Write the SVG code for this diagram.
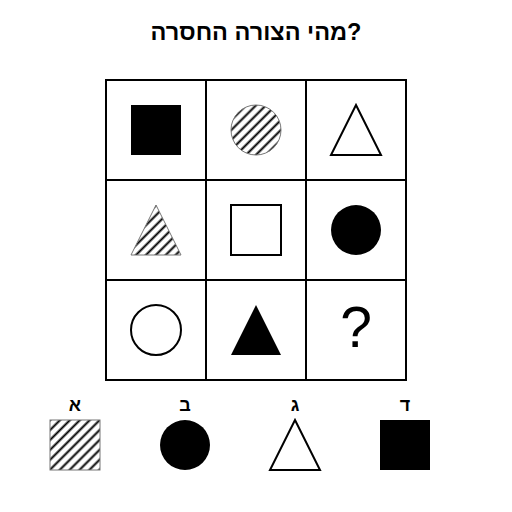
<svg xmlns="http://www.w3.org/2000/svg" width="512" height="512" viewBox="0 0 512 512">
<defs>
<pattern id="hatch" patternUnits="userSpaceOnUse" width="7" height="7" patternTransform="rotate(45)">
<rect width="7" height="7" fill="#fff"/>
<line x1="3.5" y1="0" x2="3.5" y2="7" stroke="#000" stroke-width="2"/>
</pattern>
</defs>
<style>
.grid{fill:none;stroke:#000;stroke-width:2}
.solid{fill:#000}
.outline{fill:#fff;stroke:#000;stroke-width:2}
.hatched{fill:url(#hatch);stroke:#777;stroke-width:1}
.title{font-family:"Liberation Sans",Arial,sans-serif;font-weight:bold;font-size:23.5px;text-anchor:middle}
.lbl{font-family:"Liberation Sans",Arial,sans-serif;font-weight:bold;font-size:18px;text-anchor:middle}
.q{font-family:"Liberation Sans",Arial,sans-serif;font-size:57px;text-anchor:middle}
</style>
<rect width="512" height="512" fill="#fff"/>
<text class="title" x="256" y="40">מהי הצורה החסרה?</text>
<g id="grid">
<rect class="grid" x="106" y="80" width="300" height="300"/>
<line class="grid" x1="206" y1="80" x2="206" y2="380"/>
<line class="grid" x1="306" y1="80" x2="306" y2="380"/>
<line class="grid" x1="106" y1="180" x2="406" y2="180"/>
<line class="grid" x1="106" y1="280" x2="406" y2="280"/>
</g>
<g id="cell-1-1"><rect class="solid" x="131" y="105" width="50" height="50"/></g>
<g id="cell-1-2"><circle class="hatched" cx="256" cy="130" r="25"/></g>
<g id="cell-1-3"><polygon class="outline" points="356,105 381,155 331,155"/></g>
<g id="cell-2-1"><polygon class="hatched" points="156,205 181,255 131,255"/></g>
<g id="cell-2-2"><rect class="outline" x="231" y="205" width="50" height="50"/></g>
<g id="cell-2-3"><circle class="solid" cx="356" cy="230" r="25"/></g>
<g id="cell-3-1"><circle class="outline" cx="156" cy="330" r="25"/></g>
<g id="cell-3-2"><polygon class="solid" points="256,305 281,355 231,355"/></g>
<g id="cell-3-3"><text class="q" x="356" y="347">?</text></g>
<g id="option-a">
<text class="lbl" x="75" y="411">א</text>
<rect class="hatched" x="50" y="420" width="50" height="50"/>
</g>
<g id="option-b">
<text class="lbl" x="185" y="411">ב</text>
<circle class="solid" cx="185" cy="445" r="25"/>
</g>
<g id="option-c">
<text class="lbl" x="295" y="411">ג</text>
<polygon class="outline" points="295,420 320,470 270,470"/>
</g>
<g id="option-d">
<text class="lbl" x="405" y="411">ד</text>
<rect class="solid" x="380" y="420" width="50" height="50"/>
</g>
</svg>
